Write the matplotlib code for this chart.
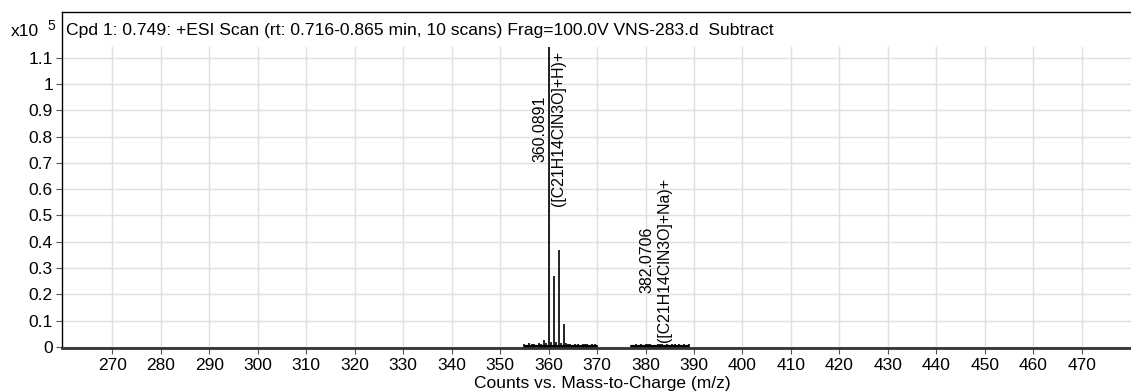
import matplotlib.pyplot as plt
from matplotlib.patches import Rectangle

plt.rcParams['font.family'] = ['Liberation Sans', 'DejaVu Sans']

# main peaks (m/z, counts)
peak_mz = [359.09, 360.0891, 361.09, 362.09, 363.09, 382.0706]
peak_int = [2700, 130000, 27000, 36800, 8600, 900]

# baseline noise sticks
noise_mz = [355.0, 355.5, 356.0, 356.5, 357.0, 357.5, 358.0, 358.5, 359.5, 360.5,
            361.5, 362.5, 363.5, 364.0, 364.5, 365.0, 365.5, 366.0, 366.5, 367.0,
            367.5, 368.0, 368.5, 369.0, 369.5, 370.0,
            377.0, 377.5, 378.0, 378.5, 379.0, 379.5, 380.0, 380.5, 381.0, 381.5,
            382.5, 383.0, 383.5, 384.0, 384.5, 385.0, 385.5, 386.0, 386.5, 387.0,
            387.5, 388.0, 388.5, 389.0]
noise_int = [1200, 900, 1400, 1000, 1300, 800, 1500, 1100, 1600, 1800,
             1700, 1500, 1400, 1000, 1300, 900, 1200, 1100, 800, 1300,
             1000, 1200, 900, 1100, 1000, 700,
             900, 700, 1100, 800, 1200, 900, 1000, 1300, 1100, 900,
             1200, 1000, 1300, 800, 1100, 900, 1200, 1000, 800, 1100,
             900, 1000, 800, 1100]

labels = [(360.0891, 83000, '360.0891\n([C21H14ClN3O]+H)+'),
          (382.0706, 33000, '382.0706\n([C21H14ClN3O]+Na)+')]

xticks = list(range(270, 480, 10))
yticks = [0, 10000, 20000, 30000, 40000, 50000, 60000, 70000, 80000, 90000, 100000, 110000]
ytick_labels = ['0', '0.1', '0.2', '0.3', '0.4', '0.5', '0.6', '0.7', '0.8', '0.9', '1', '1.1']

fig = plt.figure(figsize=(11.31, 3.92), dpi=100)
ax = fig.add_axes([62 / 1131, 1 - 348 / 392, 1 - 62 / 1131 + 0.01, (348 - 12) / 392])

ax.vlines(noise_mz, 0, noise_int, color='black', lw=1.2)
ax.hlines(0, 355, 370, color='black', lw=3)
ax.hlines(0, 377, 389, color='black', lw=3)
ax.vlines(peak_mz, 0, peak_int, color='black', lw=1.2)

for x, y, txt in labels:
    ax.text(x, y, txt, rotation=90, ha='center', va='center',
            multialignment='center', fontsize=11.4, linespacing=1.25)

ax.set_xlim(259.6, 482.5)
ax.set_ylim(-400, 127400)
ax.set_xticks(xticks)
ax.set_yticks(yticks)
ax.set_yticklabels(ytick_labels)
ax.tick_params(axis='both', labelsize=12.5, length=4.5, color='#555555')
ax.tick_params(axis='x', pad=3)
ax.tick_params(axis='y', pad=2)
ax.grid(True, color='#e0e0e0', lw=1)
ax.set_axisbelow(True)
for s in ['left', 'top', 'right']:
    ax.spines[s].set_linewidth(1.0)
ax.spines['bottom'].set_linewidth(2.0)
ax.spines['bottom'].set_color('#333333')
for s in ax.spines.values():
    s.set_zorder(5)

# white header band inside the frame
band_bottom = (348 - 47) / 336
ax.add_patch(Rectangle((0, band_bottom), 1, 1 - band_bottom, transform=ax.transAxes,
                       facecolor='white', edgecolor='none', zorder=3))

ax.set_xlabel('Counts vs. Mass-to-Charge (m/z)', fontsize=12.5, labelpad=2)
ax.text(0.004, (348 - 30) / 336, 'Cpd 1: 0.749: +ESI Scan (rt: 0.716-0.865 min, 10 scans) Frag=100.0V VNS-283.d  Subtract',
        transform=ax.transAxes, ha='left', va='center', fontsize=12.6, zorder=4)
fig.text(11 / 1131, 1 - 31 / 392, 'x10', ha='left', va='center', fontsize=12.5)
fig.text(47 / 1131, 1 - 26 / 392, '5', ha='left', va='center', fontsize=10)

fig.savefig('out.png', dpi=100)
